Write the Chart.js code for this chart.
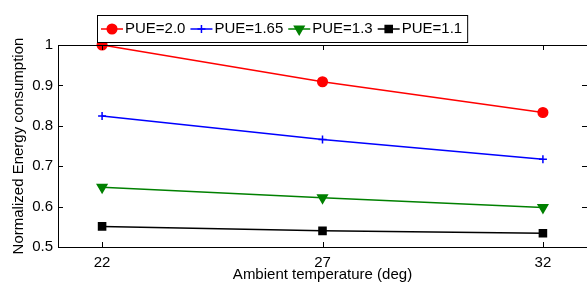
<!DOCTYPE html>
<html>
<head>
<meta charset="utf-8">
<script src="https://cdn.jsdelivr.net/npm/chart.js@4"></script>
<style>
  body { margin: 0; background: #fff; }
  #wrap { width: 587px; height: 284px; }
</style>
</head>
<body>
<div id="wrap"><canvas id="chart" width="587" height="284"></canvas></div>
<script>
'use strict';

// ambient temperature (deg) on the x axis
var temps = [22, 27, 32];
var xTicks = [22, 27, 32];
var yTicks = [0.5, 0.6, 0.7, 0.8, 0.9, 1.0];

// normalized energy per PUE setting
var pue20 = [1.0, 0.909, 0.833];
var pue165 = [0.824, 0.766, 0.717];
var pue13 = [0.648, 0.622, 0.598];
var pue11 = [0.551, 0.540, 0.534];

var labels = ['PUE=2.0', 'PUE=1.65', 'PUE=1.3', 'PUE=1.1'];
var FONT = '"Liberation Sans", Arial, Helvetica, sans-serif';

function pts(vals) {
   return vals.map(function (v, i) { return { x: temps[i], y: v }; });
}

// matlab-ish box with inward ticks on all four sides
var framePlugin = {
   id: 'frame',
   afterDraw: function (chart) {
      var ctx = chart.ctx, a = chart.chartArea;
      var xs = chart.scales.x, ys = chart.scales.y;
      var len = 5;
      ctx.save();
      ctx.strokeStyle = '#000';
      ctx.lineWidth = 1;
      ctx.beginPath();
      xTicks.forEach(function (t) {
         var px = Math.round(xs.getPixelForValue(t)) + 0.5;
         ctx.moveTo(px, a.bottom); ctx.lineTo(px, a.bottom - len);
         ctx.moveTo(px, a.top); ctx.lineTo(px, a.top + len);
      });
      yTicks.forEach(function (t) {
         var py = Math.round(ys.getPixelForValue(t)) + 0.5;
         ctx.moveTo(a.left, py); ctx.lineTo(a.left + len, py);
         ctx.moveTo(a.right, py); ctx.lineTo(a.right - len, py);
      });
      ctx.stroke();
      ctx.strokeRect(Math.round(a.left) + 0.5, Math.round(a.top) + 0.5,
                     Math.round(a.right - a.left), Math.round(a.bottom - a.top));
      ctx.restore();
   }
};

// legend drawn as one boxed row: line + marker + text
var legendPlugin = {
   id: 'boxLegend',
   afterDraw: function (chart) {
      var ctx = chart.ctx;
      var boxX = 97, boxY = 15, boxH = 27;
      var lineLen = 22, gapTxt = 2, gapItem = 5, padL = 4, padR = 5;
      ctx.save();
      ctx.font = '15px ' + FONT;
      var w = padL + padR;
      chart.data.datasets.forEach(function (ds, i) {
         w += lineLen + gapTxt + ctx.measureText(ds.label).width + (i < 3 ? gapItem : 0);
      });
      ctx.fillStyle = '#fff';
      ctx.fillRect(boxX, boxY, w, boxH);
      ctx.strokeStyle = '#000';
      ctx.lineWidth = 1;
      ctx.strokeRect(boxX + 0.5, boxY + 0.5, w, boxH);
      var x = boxX + padL, cy = boxY + boxH / 2 + 0.5;
      chart.data.datasets.forEach(function (ds) {
         ctx.strokeStyle = ds.borderColor;
         ctx.lineWidth = 1.5;
         ctx.beginPath();
         ctx.moveTo(x, cy); ctx.lineTo(x + lineLen, cy);
         ctx.stroke();
         ctx.fillStyle = ds.borderColor;
         var opts = { pointStyle: ds.pointStyle, rotation: ds.pointRotation || 0, radius: ds.pointRadius, borderWidth: 1.5 };
         Chart.helpers.drawPoint(ctx, opts, x + lineLen / 2, cy);
         x += lineLen + gapTxt;
         ctx.fillStyle = '#000';
         ctx.textBaseline = 'middle';
         ctx.fillText(ds.label, x, cy);
         x += ctx.measureText(ds.label).width + gapItem;
      });
      ctx.restore();
   }
};

function series(label, vals, color, style, radius, rot) {
   return {
      label: label,
      data: pts(vals),
      borderColor: color,
      backgroundColor: color,
      borderWidth: 1.5,
      pointStyle: style,
      pointRadius: radius,
      pointRotation: rot || 0,
      pointBorderWidth: 1.5,
      pointBackgroundColor: color,
      pointBorderColor: color,
      clip: false,
      tension: 0
   };
}

new Chart(document.getElementById('chart').getContext('2d'), {
   type: 'line',
   data: {
      datasets: [
         series(labels[0], pue20, '#ff0000', 'circle', 4.8),
         series(labels[1], pue165, '#0000ff', 'cross', 4),
         series(labels[2], pue13, '#008000', 'triangle', 5.5, 180),
         series(labels[3], pue11, '#000000', 'rect', 5)
      ]
   },
   options: {
      responsive: false,
      animation: false,
      events: [],
      layout: { autoPadding: false, padding: { top: 45, right: 0, left: 0, bottom: 0 } },
      plugins: { legend: { display: false }, tooltip: { enabled: false } },
      scales: {
         x: {
            type: 'linear',
            min: 21,
            max: 33,
            afterBuildTicks: function (s) { s.ticks = xTicks.map(function (v) { return { value: v }; }); },
            afterFit: function (s) { s.height = 37; s.paddingLeft = 0; s.paddingRight = 0; },
            grid: { drawOnChartArea: false, drawTicks: false },
            border: { display: false },
            ticks: { color: '#000', padding: 7, maxRotation: 0, font: { family: FONT, size: 15 } },
            title: { display: true, text: 'Ambient temperature (deg)', color: '#000', padding: { top: 0, bottom: 0 }, font: { family: FONT, size: 15 } }
         },
         y: {
            min: 0.5,
            max: 1,
            afterBuildTicks: function (s) { s.ticks = yTicks.map(function (v) { return { value: v }; }); },
            afterFit: function (s) { s.width = 58; s.paddingTop = 0; s.paddingBottom = 0; },
            grid: { drawOnChartArea: false, drawTicks: false },
            border: { display: false },
            ticks: {
               color: '#000', padding: 5, font: { family: FONT, size: 15 },
               callback: function (v) { return String(Math.round(v * 10) / 10); }
            },
            title: { display: true, text: 'Normalized Energy consumption', color: '#000', padding: { top: 10, bottom: 0 }, font: { family: FONT, size: 15 } }
         }
      }
   },
   plugins: [framePlugin, legendPlugin]
});
</script>
</body>
</html>
